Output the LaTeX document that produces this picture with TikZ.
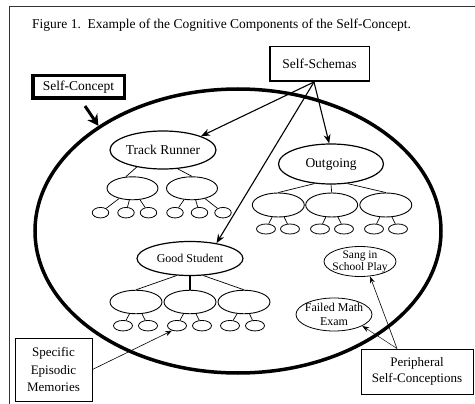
\documentclass[tikz,border=0pt]{standalone}
\usepackage{fontspec}
\setmainfont{Liberation Serif}
\usetikzlibrary{shapes.geometric,arrows.meta}
\begin{document}
\begin{tikzpicture}[x=1pt,y=-1pt,
  hdell/.style={ellipse,draw,line width=1.2pt,inner sep=0pt,font=\fontsize{13.5}{16}\selectfont},
  subell/.style={ellipse,draw,line width=0.9pt,inner sep=0pt,minimum width=51pt,minimum height=23pt},
  leafell/.style={ellipse,draw,line width=0.8pt,inner sep=0pt,minimum width=18pt,minimum height=10.5pt},
  perell/.style={ellipse,draw,line width=0.8pt,inner sep=0pt},
  pertxt/.style={align=center,inner sep=0pt},
  treeln/.style={line width=0.7pt},
  notebox/.style={draw,line width=0.9pt,fill=white,align=center,inner sep=0pt,font=\fontsize{13}{16.5}\selectfont},
  arrs/.style={line width=1.1pt,-{Stealth[length=9pt,width=7pt]}},
  arrthin/.style={line width=0.6pt,-{Stealth[length=7pt,width=5pt]}},
]
\useasboundingbox (0,0) rectangle (475,404);
\fill[white] (0,0) rectangle (475,404);
\draw[line width=1pt,black!80] (475,7) -- (9,7) -- (9,404);

\node[anchor=base west,inner sep=0pt,font=\fontsize{13.5}{16}\selectfont] (title) at (32,29)
  {Figure 1.\ \ Example of the Cognitive Components of the Self-Concept.};

% big self-concept ellipse
\node[ellipse,draw,line width=3.5pt,minimum width=406pt,minimum height=284pt,inner sep=0pt] (self) at (238,231) {};

% label boxes
\node[draw,line width=3.5pt,fill=white,minimum width=91.5pt,minimum height=22.5pt,inner sep=0pt,
  font=\fontsize{13.5}{16}\selectfont] (sc) at (78.5,87) {Self-Concept};
\node[draw,line width=1.5pt,fill=white,minimum width=99.5pt,minimum height=34.5pt,inner sep=0pt,
  font=\fontsize{13.5}{16}\selectfont] (ss) at (319.5,64) {Self-Schemas};

% schema heads
\node[hdell,minimum width=106pt,minimum height=38pt] (tr) at (163,150) {Track Runner};
\node[hdell,minimum width=105pt,minimum height=40pt] (og) at (331,164) {Outgoing};
\node[hdell,minimum width=106pt,minimum height=34pt,font=\fontsize{12}{14}\selectfont] (gs) at (190,258.5) {Good Student};

% Track Runner subtree
\node[subell] (tr1) at (132.5,188.3) {};
\node[subell] (tr2) at (192,188.3) {};
\foreach \n/\x in {1/100.5,2/126,3/148.5,4/175,5/199.5,6/223}
  \node[leafell,minimum width=16.5pt] (trg\n) at (\x,212.7) {};
\draw[treeln] (tr.-147) -- (tr1.120);
\draw[treeln] (tr.-52) -- (tr2.north);
\foreach \n in {1,2,3} \draw[treeln] (tr1) -- (trg\n);
\foreach \n in {4,5,6} \draw[treeln] (tr2) -- (trg\n);

% Outgoing subtree
\node[subell,minimum width=52pt,minimum height=24pt] (og1) at (278.3,205) {};
\node[subell,minimum width=52pt,minimum height=24pt] (og2) at (331.7,205) {};
\node[subell,minimum width=52pt,minimum height=24pt] (og3) at (385.8,205) {};
\foreach \n/\x in {1/266,2/290,3/320,4/344,5/374,6/398}
  \node[leafell,minimum width=19pt,minimum height=10pt] (ogg\n) at (\x,229) {};
\draw[treeln] (og.-130) -- (og1.north);
\draw[treeln] (og.south) -- (og2.north);
\draw[treeln] (og.-50) -- (og3.north);
\foreach \n in {1,2} \draw[treeln] (og1) -- (ogg\n);
\foreach \n in {3,4} \draw[treeln] (og2) -- (ogg\n);
\foreach \n in {5,6} \draw[treeln] (og3) -- (ogg\n);

% Good Student subtree
\node[subell,minimum width=52pt,minimum height=23.5pt] (gs1) at (136,302) {};
\node[subell,minimum width=52pt,minimum height=23.5pt] (gs2) at (190,302) {};
\node[subell,minimum width=52pt,minimum height=23.5pt] (gs3) at (244,302) {};
\foreach \n/\x in {1/123,2/148,3/177,4/202,5/230,6/255}
  \node[leafell,minimum width=19pt,minimum height=10.5pt] (gsg\n) at (\x,325.7) {};
\draw[treeln] (gs.-128) -- (gs1.north);
\draw[line width=2pt] (gs.south) -- (gs2.north);
\draw[treeln] (gs.-52) -- (gs3.north);
\foreach \n in {1,2} \draw[treeln] (gs1) -- (gsg\n);
\foreach \n in {3,4} \draw[treeln] (gs2) -- (gsg\n);
\foreach \n in {5,6} \draw[treeln] (gs3) -- (gsg\n);

% peripheral self-conceptions
\node[perell,minimum width=72pt,minimum height=30pt] (sp) at (360,261.5) {};
\node[pertxt,font=\fontsize{11.5}{12}\selectfont] (sptxt) at (sp) {Sang in\\School Play};
\node[perell,minimum width=76pt,minimum height=33pt] (fm) at (334,314.5) {};
\node[pertxt,font=\fontsize{12}{13.3}\selectfont] (fmtxt) at (fm) {Failed Math\\Exam};

% notes
\node[notebox,minimum width=77pt,minimum height=63pt,font=\fontsize{13}{17.5}\selectfont] (spec) at (53.5,369.5) {Specific\\Episodic\\Memories};
\node[notebox,minimum width=112pt,minimum height=45pt,font=\fontsize{13}{16}\selectfont] (pb) at (417,371.5) {Peripheral\\Self-Conceptions};

% arrows
\draw[line width=3pt,-{Stealth[length=11pt,width=12pt]}] ([xshift=6.5pt,yshift=-6pt]sc.south) -- (self.143);
\coordinate (ssb) at ([xshift=-5.5pt]ss.south);
\draw[arrs] (ssb) -- (tr.20);
\draw[arrs] (ssb) -- (og.95);
\draw[arrs] (ssb) -- (gs.30);
\coordinate (pbt) at ([xshift=-20pt]pb.north);
\draw[arrthin] (pbt) -- (sp.-56);
\draw[arrthin,line width=0.45pt] (pbt) -- (fm.-22);
\draw[arrthin] (spec.east) -- (gsg3.-135);
\end{tikzpicture}
\end{document}
